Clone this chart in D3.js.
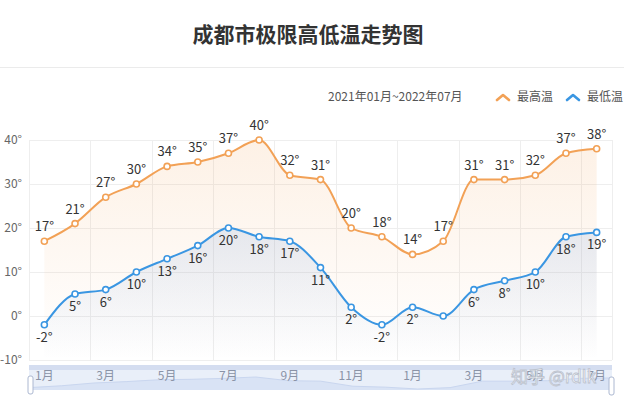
<!DOCTYPE html>
<html>
<head>
<meta charset="utf-8">
<script src="https://cdn.jsdelivr.net/npm/d3@7/dist/d3.min.js"></script>
<style>
  body { margin: 0; background: #fff; }
  svg { display: block; font-family: "Noto Sans CJK SC", "Noto Sans", sans-serif; }
</style>
</head>
<body>
<div id="chart"></div>
<script>
// 2021-01 .. 2022-07
var months = ["1月","2月","3月","4月","5月","6月","7月","8月","9月","10月","11月","12月",
              "1月","2月","3月","4月","5月","6月","7月"];
var highTemp = [17, 21, 27, 30, 34, 35, 37, 40, 32, 31, 20, 18, 14, 17, 31, 31, 32, 37, 38];
var lowTemp  = [-2, 5, 6, 10, 13, 16, 20, 18, 17, 11, 2, -2, 2, 0, 6, 8, 10, 18, 19];
var yTicks = [-10, 0, 10, 20, 30, 40];

var width = 624, height = 402;
var orange = "#f2a156", blue = "#3a96e2";

var svg = d3.select("#chart").append("svg")
    .attr("width", width)
    .attr("height", height);

var defs = svg.append("defs");
function grad(id, color, a0, a1) {
  var g = defs.append("linearGradient").attr("id", id)
    .attr("x1", 0).attr("y1", 0).attr("x2", 0).attr("y2", 1);
  g.append("stop").attr("offset", "0%").attr("stop-color", color).attr("stop-opacity", a0);
  g.append("stop").attr("offset", "100%").attr("stop-color", color).attr("stop-opacity", a1);
}
grad("gHigh", orange, 0.15, 0.0);
grad("gLow", "#5b8fd9", 0.15, 0.0);

// title
svg.append("text")
  .attr("x", 308).attr("y", 42)
  .attr("text-anchor", "middle")
  .style("font-size", "21px").style("font-weight", "bold")
  .style("fill", "#333")
  .text("成都市极限高低温走势图");

svg.append("line")
  .attr("x1", 0).attr("x2", width).attr("y1", 67.5).attr("y2", 67.5)
  .style("stroke", "#ebebeb");

svg.append("text")
  .attr("x", 328).attr("y", 101)
  .style("font-size", "12px").style("fill", "#555")
  .text("2021年01月~2022年07月");

// legend
var legend = [{name: "最高温", color: orange, x: 497}, {name: "最低温", color: blue, x: 567}];
legend.forEach(function(d) {
  svg.append("path")
    .attr("d", "M" + d.x + ",100 L" + (d.x + 6) + ",95 L" + (d.x + 12) + ",100")
    .style("fill", "none").style("stroke", d.color)
    .style("stroke-width", 2.6).style("stroke-linecap", "round").style("stroke-linejoin", "round");
  svg.append("text")
    .attr("x", d.x + 20).attr("y", 101)
    .style("font-size", "12px").style("fill", "#555")
    .text(d.name);
});

// scales
var gLeft = 29, gRight = 612, gTop = 140, gBottom = 360;
var x = d3.scaleBand().domain(d3.range(months.length)).range([gLeft, gRight]);
var bw = x.bandwidth();
var cx = function(i) { return x(i) + bw / 2; };
var y = d3.scaleLinear().domain([-10, 40]).range([gBottom, gTop]);

// grid
svg.append("g").selectAll("line").data(yTicks).enter().append("line")
  .attr("x1", gLeft).attr("x2", gRight)
  .attr("y1", function(d) { return Math.round(y(d)) + 0.5; })
  .attr("y2", function(d) { return Math.round(y(d)) + 0.5; })
  .style("stroke", "#eeeeee");

var vLines = d3.range(0, months.length + 1, 2).concat([months.length]);
svg.append("g").selectAll("line").data(vLines).enter().append("line")
  .attr("x1", function(k) { return Math.round(gLeft + k * bw) + 0.5; })
  .attr("x2", function(k) { return Math.round(gLeft + k * bw) + 0.5; })
  .attr("y1", gTop).attr("y2", gBottom)
  .style("stroke", "#eeeeee");

svg.append("g").selectAll("text").data(yTicks).enter().append("text")
  .attr("x", 22).attr("y", function(d) { return y(d) + 4; })
  .attr("text-anchor", "end")
  .style("font-size", "12px").style("fill", "#666")
  .text(function(d) { return d + "°"; });

// areas and lines
var curve = d3.curveMonotoneX;
var area = d3.area().x(function(d, i) { return cx(i); })
  .y0(gBottom).y1(function(d) { return y(d); }).curve(curve);
var line = d3.line().x(function(d, i) { return cx(i); })
  .y(function(d) { return y(d); }).curve(curve);

svg.append("path").datum(highTemp).attr("d", area).style("fill", "url(#gHigh)");
svg.append("path").datum(lowTemp).attr("d", area).style("fill", "url(#gLow)");

[{data: highTemp, color: orange, dy: -10}, {data: lowTemp, color: blue, dy: 17}].forEach(function(s) {
  svg.append("path").datum(s.data).attr("d", line)
    .style("fill", "none").style("stroke", s.color).style("stroke-width", 2);
  svg.append("g").selectAll("circle").data(s.data).enter().append("circle")
    .attr("cx", function(d, i) { return cx(i); })
    .attr("cy", function(d) { return y(d); })
    .attr("r", 3)
    .style("fill", "#fff").style("stroke", s.color).style("stroke-width", 1.6);
  svg.append("g").selectAll("text").data(s.data).enter().append("text")
    .attr("x", function(d, i) { return cx(i); })
    .attr("y", function(d) { return y(d) + s.dy; })
    .attr("text-anchor", "middle")
    .style("font-size", "13px").style("fill", "#333")
    .text(function(d) { return d === 0 ? "" : d + "°"; });
});

// data zoom slider
var zTop = 365, zBot = 390;
svg.append("rect").attr("x", gLeft).attr("y", zTop).attr("width", gRight - gLeft).attr("height", zBot - zTop)
  .style("fill", "#e9eff9");
svg.append("rect").attr("x", gLeft).attr("y", zTop).attr("width", gRight - gLeft).attr("height", 5)
  .style("fill", "#d4ddf0");
var zx = d3.scaleLinear().domain([0, months.length - 1]).range([gLeft, gRight]);
var zy = d3.scaleLinear().domain([14, 40]).range([389, 377]);
var shadow = d3.area().x(function(d, i) { return zx(i); }).y0(zBot).y1(function(d) { return zy(d); });
var shadowLine = d3.line().x(function(d, i) { return zx(i); }).y(function(d) { return zy(d); });
svg.append("path").datum(highTemp).attr("d", shadow).style("fill", "#d9e3f5");
svg.append("path").datum(highTemp).attr("d", shadowLine).style("fill", "none").style("stroke", "#c9d6ef");

svg.append("g").selectAll("text").data(d3.range(0, months.length, 2)).enter().append("text")
  .attr("x", function(i) { return cx(i); })
  .attr("y", 380)
  .attr("text-anchor", "middle")
  .style("font-size", "12px").style("fill", "#8a93a6")
  .text(function(i) { return months[i]; });

// watermark (sits over the last slider labels, as in the source screenshot)
svg.append("text")
  .attr("x", 511).attr("y", 383)
  .style("font-size", "17px").style("fill", "#fff")
  .style("stroke", "#b9c0cc").style("stroke-width", 0.8)
  .text("知乎 @rdlk");

[[gLeft - 1, 376], [gRight - 3, 377]].forEach(function(h) {
  svg.append("rect").attr("x", h[0]).attr("y", h[1]).attr("width", 5).attr("height", 18).attr("rx", 2)
    .style("fill", "#fff").style("stroke", "#acb8d1").style("stroke-width", 1);
});
</script>
</body>
</html>
